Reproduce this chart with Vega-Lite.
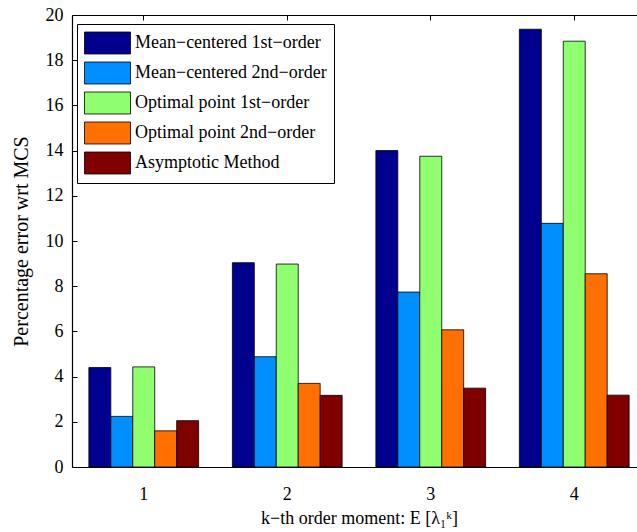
{
  "$schema": "https://vega.github.io/schema/vega-lite/v6.json",
  "width": 565,
  "height": 452,
  "autosize": "none",
  "padding": {"left": 72, "top": 15, "right": 0, "bottom": 65},
  "background": "white",
  "config": {
    "view": {"stroke": null},
    "font": "Liberation Serif, Times New Roman, serif",
    "axis": {"labelFont": "Liberation Serif, Times New Roman, serif", "titleFont": "Liberation Serif, Times New Roman, serif", "domainColor": "black", "tickColor": "black", "labelColor": "black", "titleColor": "black", "titleFontWeight": "normal", "grid": false, "domainWidth": 1.2, "tickWidth": 1}
  },
  "data": {
    "values": [
      {"k": "1", "method": "Mean\u2212centered 1st\u2212order", "err": 4.40},
      {"k": "1", "method": "Mean\u2212centered 2nd\u2212order", "err": 2.24},
      {"k": "1", "method": "Optimal point 1st\u2212order", "err": 4.43},
      {"k": "1", "method": "Optimal point 2nd\u2212order", "err": 1.60},
      {"k": "1", "method": "Asymptotic Method", "err": 2.05},
      {"k": "2", "method": "Mean\u2212centered 1st\u2212order", "err": 9.04},
      {"k": "2", "method": "Mean\u2212centered 2nd\u2212order", "err": 4.88},
      {"k": "2", "method": "Optimal point 1st\u2212order", "err": 8.98},
      {"k": "2", "method": "Optimal point 2nd\u2212order", "err": 3.70},
      {"k": "2", "method": "Asymptotic Method", "err": 3.17},
      {"k": "3", "method": "Mean\u2212centered 1st\u2212order", "err": 14.00},
      {"k": "3", "method": "Mean\u2212centered 2nd\u2212order", "err": 7.74},
      {"k": "3", "method": "Optimal point 1st\u2212order", "err": 13.75},
      {"k": "3", "method": "Optimal point 2nd\u2212order", "err": 6.07},
      {"k": "3", "method": "Asymptotic Method", "err": 3.49},
      {"k": "4", "method": "Mean\u2212centered 1st\u2212order", "err": 19.37},
      {"k": "4", "method": "Mean\u2212centered 2nd\u2212order", "err": 10.78},
      {"k": "4", "method": "Optimal point 1st\u2212order", "err": 18.84},
      {"k": "4", "method": "Optimal point 2nd\u2212order", "err": 8.55},
      {"k": "4", "method": "Asymptotic Method", "err": 3.18}
    ]
  },
  "layer": [
    {
      "mark": {"type": "bar", "stroke": "black", "strokeWidth": 0.8},
      "encoding": {
        "x": {
          "field": "k", "type": "nominal",
          "scale": {"range": [0, 574], "paddingInner": 0.235, "paddingOuter": 0.1175},
          "axis": {"orient": "bottom", "title": "k\u2212th order moment: E [\u03bb\u2081\u1d4f]", "labelAngle": 0, "labelFontSize": 18, "titleFontSize": 18, "ticks": false, "labelPadding": 18, "titlePadding": 6}
        },
        "xOffset": {"field": "method", "type": "nominal", "sort": ["Mean\u2212centered 1st\u2212order", "Mean\u2212centered 2nd\u2212order", "Optimal point 1st\u2212order", "Optimal point 2nd\u2212order", "Asymptotic Method"], "scale": {"paddingInner": 0, "paddingOuter": 0}},
        "y": {
          "field": "err", "type": "quantitative",
          "scale": {"domain": [0, 20], "nice": false},
          "axis": {"title": "Percentage error wrt MCS", "values": [0, 2, 4, 6, 8, 10, 12, 14, 16, 18, 20], "tickSize": -5, "labelPadding": 14, "labelFontSize": 18, "titleFontSize": 20, "titlePadding": 14}
        },
        "color": {
          "field": "method", "type": "nominal",
          "sort": ["Mean\u2212centered 1st\u2212order", "Mean\u2212centered 2nd\u2212order", "Optimal point 1st\u2212order", "Optimal point 2nd\u2212order", "Asymptotic Method"],
          "scale": {"range": ["#00008F", "#008FFF", "#8FFF70", "#FF7000", "#800000"]},
          "legend": {
            "title": null, "orient": "none", "legendX": 5, "legendY": 9,
            "symbolType": "M-1,-0.956H3V0.956H-1Z", "symbolSize": 529,
            "symbolStrokeColor": "black", "symbolStrokeWidth": 0.8, "symbolOpacity": 1,
            "labelFont": "Liberation Serif, Times New Roman, serif", "labelFontSize": 18, "labelColor": "black", "labelOffset": 27, "labelLimit": 400,
            "rowPadding": 4, "padding": 7, "strokeColor": "black", "fillColor": "white"
          }
        }
      }
    },
    {
      "mark": {"type": "bar", "opacity": 0},
      "encoding": {
        "x": {"field": "k", "type": "nominal", "axis": {"orient": "top", "title": null, "labels": false, "tickSize": -5}},
        "xOffset": {"field": "method", "type": "nominal", "sort": ["Mean\u2212centered 1st\u2212order", "Mean\u2212centered 2nd\u2212order", "Optimal point 1st\u2212order", "Optimal point 2nd\u2212order", "Asymptotic Method"]},
        "y": {"field": "err", "type": "quantitative"}
      }
    }
  ],
  "resolve": {"axis": {"x": "independent"}}
}
